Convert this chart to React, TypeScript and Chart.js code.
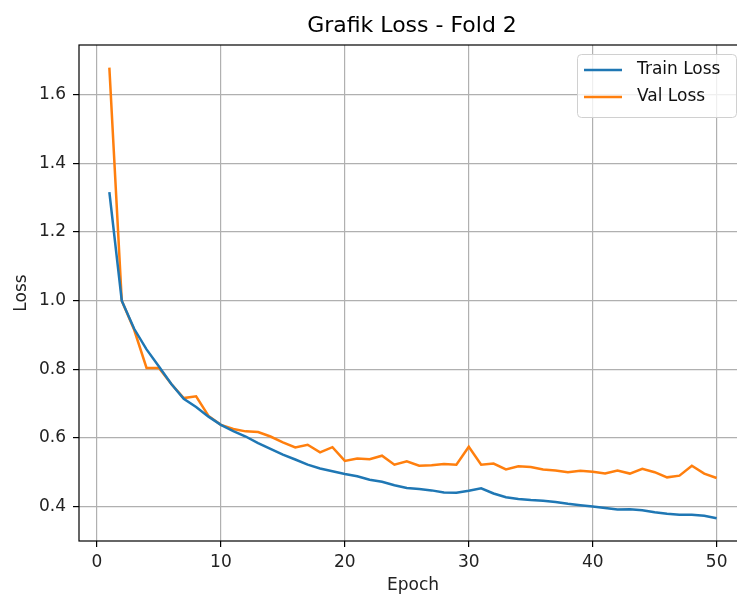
import React, { useEffect, useRef } from "react";
import { Chart, registerables } from "chart.js";

Chart.register(...registerables);

const epochs = Array.from({ length: 50 }, (_, i) => i + 1);

const trainLoss = [
  1.316, 1.0, 0.918, 0.858, 0.808, 0.757, 0.714, 0.69, 0.662, 0.638,
  0.62, 0.604, 0.585, 0.568, 0.551, 0.537, 0.522, 0.511, 0.503, 0.495,
  0.488, 0.478, 0.472, 0.462, 0.454, 0.451, 0.447, 0.441, 0.44, 0.446,
  0.453, 0.438, 0.427, 0.422, 0.419, 0.417, 0.413, 0.408, 0.404, 0.4,
  0.396, 0.391, 0.392, 0.389, 0.383, 0.379, 0.376, 0.376, 0.373, 0.366,
];

const valLoss = [
  1.679, 1.0, 0.915, 0.804, 0.804, 0.757, 0.716, 0.721, 0.664, 0.638,
  0.626, 0.619, 0.617, 0.604, 0.587, 0.572, 0.58, 0.558, 0.573, 0.533,
  0.54, 0.538, 0.548, 0.522, 0.532, 0.519, 0.52, 0.524, 0.522, 0.574,
  0.522, 0.525, 0.508, 0.517, 0.515, 0.508, 0.505, 0.5, 0.504, 0.501,
  0.496, 0.505, 0.496, 0.51, 0.5, 0.485, 0.49, 0.519, 0.496, 0.483,
];

const xTicks = [0, 10, 20, 30, 40, 50];
const yTicks = [0.4, 0.6, 0.8, 1.0, 1.2, 1.4, 1.6];

const seriesNames = ["Train Loss", "Val Loss"];
const seriesColors = ["#1f77b4", "#ff7f0e"];
const titleText = "Grafik Loss - Fold 2";

const FONT = "'DejaVu Sans', sans-serif";

const framePlugin = {
  id: "frame",
  afterDatasetsDraw(chart: any) {
    const { ctx, chartArea: a } = chart;
    ctx.save();
    ctx.strokeStyle = "#000";
    ctx.lineWidth = 1.2;
    ctx.strokeRect(a.left, a.top, a.right - a.left, a.bottom - a.top);
    ctx.restore();
  },
  afterDraw(chart: any) {
    const { ctx } = chart;
    ctx.save();
    ctx.fillStyle = "#000";
    ctx.font = `22px ${FONT}`;
    ctx.textAlign = "center";
    ctx.textBaseline = "middle";
    ctx.fillText(titleText, 412, 26);
    const bx = 577.5, by = 54.5, bw = 159, bh = 63, r = 4;
    ctx.beginPath();
    ctx.moveTo(bx + r, by);
    ctx.lineTo(bx + bw - r, by);
    ctx.arcTo(bx + bw, by, bx + bw, by + r, r);
    ctx.lineTo(bx + bw, by + bh - r);
    ctx.arcTo(bx + bw, by + bh, bx + bw - r, by + bh, r);
    ctx.lineTo(bx + r, by + bh);
    ctx.arcTo(bx, by + bh, bx, by + bh - r, r);
    ctx.lineTo(bx, by + r);
    ctx.arcTo(bx, by, bx + r, by, r);
    ctx.closePath();
    ctx.fillStyle = "rgba(255,255,255,0.8)";
    ctx.fill();
    ctx.strokeStyle = "#d0d0d0";
    ctx.lineWidth = 1;
    ctx.stroke();
    ctx.font = `17px ${FONT}`;
    ctx.textAlign = "left";
    ctx.textBaseline = "middle";
    const rows = [70, 97];
    seriesNames.forEach((name, i) => {
      ctx.strokeStyle = seriesColors[i];
      ctx.lineWidth = 2.5;
      ctx.beginPath();
      ctx.moveTo(584, rows[i]);
      ctx.lineTo(622, rows[i]);
      ctx.stroke();
      ctx.fillStyle = "#111";
      ctx.fillText(name, 637, rows[i]);
    });
    ctx.restore();
  },
};

export default function App() {
  const ref = useRef<HTMLCanvasElement | null>(null);

  useEffect(() => {
    document.body.style.margin = "0";
    const canvas = ref.current;
    if (!canvas) return;
    const chart = new Chart(canvas, {
      type: "line",
      data: {
        datasets: [
          {
            label: seriesNames[0],
            data: epochs.map((e, i) => ({ x: e, y: trainLoss[i] })),
            borderColor: seriesColors[0],
            backgroundColor: seriesColors[0],
            borderWidth: 2.5,
            pointRadius: 0,
            tension: 0,
          },
          {
            label: seriesNames[1],
            data: epochs.map((e, i) => ({ x: e, y: valLoss[i] })),
            borderColor: seriesColors[1],
            backgroundColor: seriesColors[1],
            borderWidth: 2.5,
            pointRadius: 0,
            tension: 0,
          },
        ],
      },
      options: {
        animation: false,
        responsive: false,
        maintainAspectRatio: false,
        layout: { padding: { top: 45, right: 13, left: 0, bottom: 0 } },
        plugins: {
          legend: { display: false },
          title: { display: false },
          tooltip: { enabled: false },
        },
        scales: {
          x: {
            type: "linear",
            min: -1.45,
            max: 52.45,
            afterBuildTicks: (s: any) => {
              s.ticks = xTicks.map((v) => ({ value: v }));
            },
            afterFit: (s: any) => {
              s.height = 58;
            },
            border: { display: false },
            grid: {
              color: "#b0b0b0",
              lineWidth: 1.2,
              tickLength: 6,
              tickColor: "#000",
              tickWidth: 1.2,
            },
            ticks: {
              padding: 5,
              color: "#222",
              font: { family: FONT, size: 17 },
              maxRotation: 0,
              callback: (v: any) => String(v),
            },
            title: {
              display: true,
              text: "Epoch",
              color: "#222",
              font: { family: FONT, size: 17 },
              padding: { top: 0, bottom: 3 },
            },
          },
          y: {
            type: "linear",
            min: 0.2995,
            max: 1.745,
            afterBuildTicks: (s: any) => {
              s.ticks = yTicks.map((v) => ({ value: v }));
            },
            afterFit: (s: any) => {
              s.width = 79;
            },
            border: { display: false },
            grid: {
              color: "#b0b0b0",
              lineWidth: 1.2,
              tickLength: 6,
              tickColor: "#000",
              tickWidth: 1.2,
            },
            ticks: {
              padding: 7,
              color: "#222",
              font: { family: FONT, size: 17 },
              callback: (v: any) => Number(v).toFixed(1),
            },
            title: {
              display: true,
              text: "Loss",
              color: "#222",
              font: { family: FONT, size: 17 },
              padding: { top: 11, bottom: 0 },
            },
          },
        },
      },
      plugins: [framePlugin],
    });
    return () => chart.destroy();
  }, []);

  return (
    <div style={{ width: 737, height: 599, overflow: "hidden", position: "relative", background: "#fff" }}>
      <canvas ref={ref} width={760} height={599} style={{ display: "block", width: 760, height: 599 }} />
    </div>
  );
}
